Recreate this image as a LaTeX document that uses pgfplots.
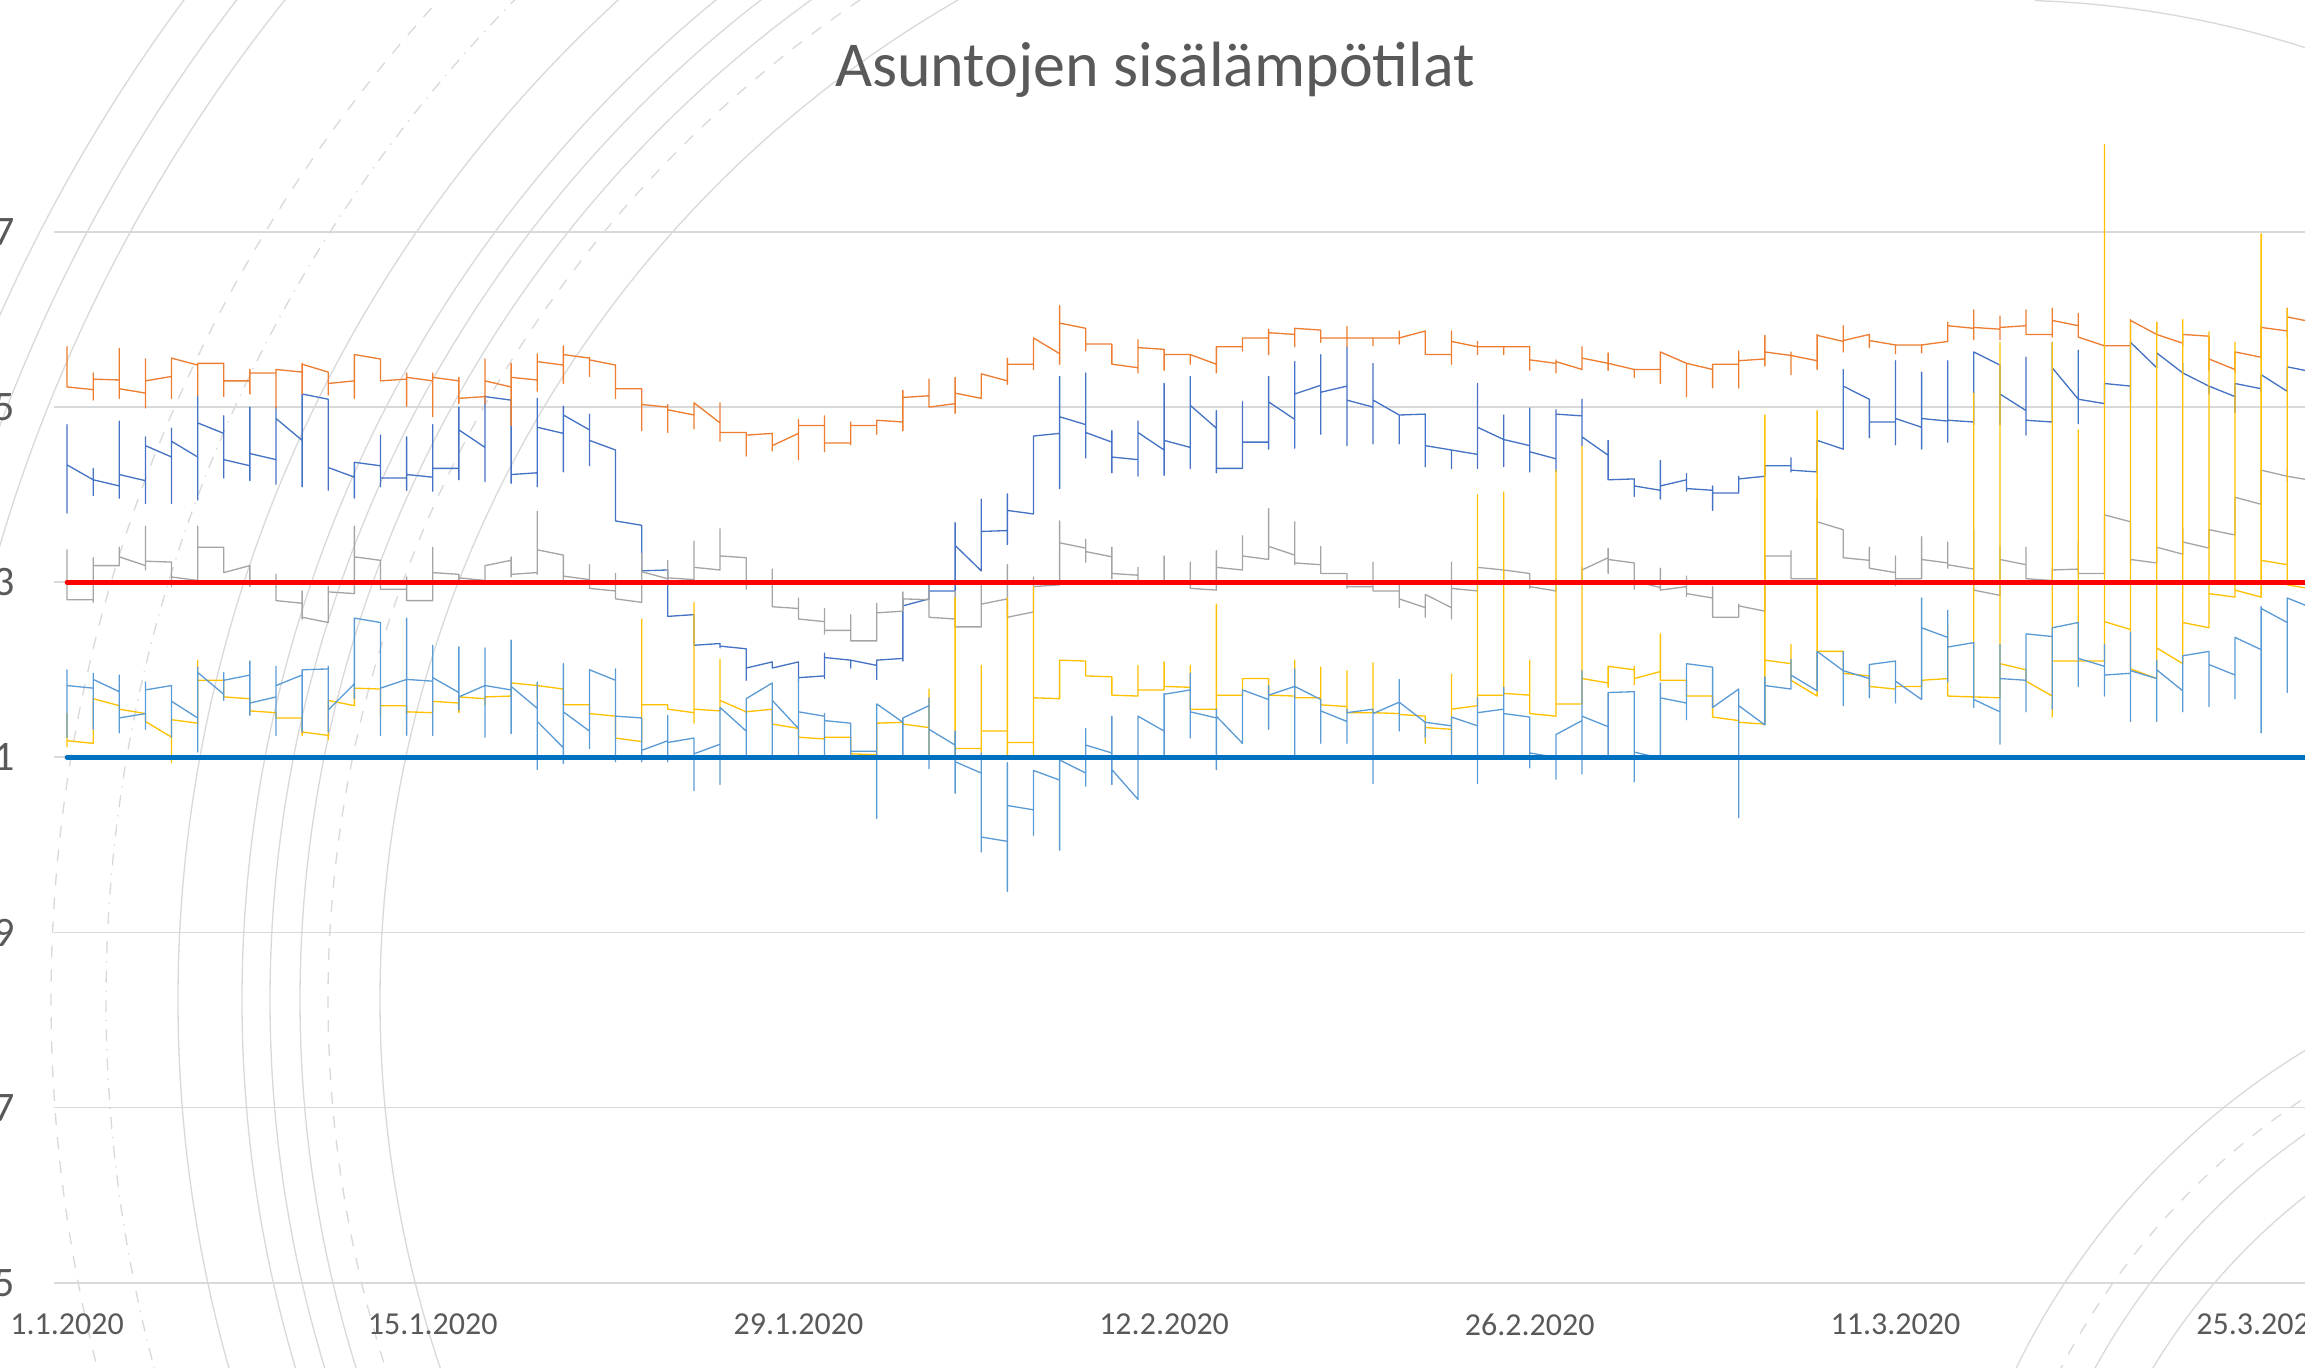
\documentclass[border=0pt]{standalone}
\usepackage{pgfplots}
\pgfplotsset{compat=1.18}
\usepackage{fontspec}
\setmainfont{Carlito}
\definecolor{gridgray}{HTML}{D9D9D9}
\definecolor{txtgray}{HTML}{595959}
\definecolor{sdblue}{HTML}{4472C4}
\definecolor{sorange}{HTML}{ED7D31}
\definecolor{sgray}{HTML}{A5A5A5}
\definecolor{syellow}{HTML}{FFC000}
\definecolor{slblue}{HTML}{5B9BD5}
\definecolor{sred}{HTML}{FF0000}
\definecolor{sblue}{HTML}{0070C0}
\begin{document}
\begin{tikzpicture}[x=0.25pt,y=0.25pt]
\useasboundingbox (0,0) rectangle (2305,1368);
\clip (0,0) rectangle (2305,1368);
\begin{scope}[draw=gridgray, line width=0.33pt]
\foreach \r in {1154,1234,1264,1292,1356,1600,1638,1680} {\draw (1534,368) ++(100:\r) arc[start angle=100, end angle=200, radius=\r];}
\draw[dashed] (1534,368) ++(100:1206) arc[start angle=100, end angle=200, radius=1206];
\draw[dashed] (1534,368) ++(100:1483) arc[start angle=100, end angle=200, radius=1483];
\draw[dash dot] (1534,368) ++(100:1428) arc[start angle=100, end angle=200, radius=1428];
\foreach \r in {640,690,760} {\draw (2700,-332) ++(95:\r) arc[start angle=95, end angle=185, radius=\r];}
\draw[dashed] (2700,-332) ++(95:720) arc[start angle=95, end angle=185, radius=720];
\draw (2000,368) ++(40:1000) arc[start angle=40, end angle=88, radius=1000];
\end{scope}
\node[anchor=base, font=\fontsize{16}{19}\selectfont, text=txtgray, inner sep=0pt] at (1155,1281) {Asuntojen sisälämpötilat};
\begin{axis}[
  at={(13.5pt,21.33pt)}, anchor=south west,
  scale only axis, width=562.75pt, height=284.55pt,
  xmin=0.5, xmax=86.68, ymin=15, ymax=28,
  axis x line*=bottom, axis y line*=left,
  x axis line style={draw=gridgray, line width=0.42pt},
  y axis line style={draw=none},
  ytick={15,17,19,21,23,25,27},
  ytick style={draw=none},
  ymajorgrids=true,
  grid style={draw=gridgray, line width=0.42pt},
  xtick={1,15,29,43,57,71,85},
  xticklabels={1.1.2020,15.1.2020,29.1.2020,12.2.2020,26.2.2020,11.3.2020,25.3.2020},
  xtick style={draw=none},
  extra x ticks={0.5,14.5,28.5,42.5,56.5,70.5,84.5},
  extra x tick labels={},
  extra x tick style={grid=none, tick align=outside, major tick length=3.6pt, tick style={draw=gridgray, line width=0.42pt}},
  /pgf/number format/assume math mode=true,
  xticklabel style={font=\fontsize{8}{9.6}\selectfont, text=txtgray, inner sep=0pt, anchor=north, yshift=-7.5pt},
  yticklabel style={font=\fontsize{10.5}{12.6}\selectfont, text=txtgray, inner sep=0pt, anchor=east, xshift=-9.5pt},
  clip=true,
  every axis plot/.append style={line width=0.33pt, line join=round},
]
\addplot[sdblue] coordinates {
(1,24.30)(1,24.80)(1,23.79)(1,24.34)
(2,24.17)(2,24.30)(2,23.99)(2,24.17)
(3,24.10)(3,24.84)(3,23.96)(3,24.23)
(4,24.16)(4,24.66)(4,23.90)(4,24.56)
(5,24.43)(5,24.76)(5,23.90)(5,24.61)
(6,24.43)(6,25.13)(6,23.94)(6,24.82)
(7,24.70)(7,24.90)(7,24.19)(7,24.40)
(8,24.33)(8,25.00)(8,24.16)(8,24.47)
(9,24.40)(9,25.00)(9,24.12)(9,24.87)
(10,24.62)(10,25.15)(10,24.09)(10,25.15)
(11,25.09)(11,25.09)(11,24.05)(11,24.31)
(12,24.20)(12,24.37)(12,23.96)(12,24.37)
(13,24.33)(13,24.68)(13,24.09)(13,24.19)
(14,24.19)(14,24.66)(14,24.05)(14,24.23)
(15,24.20)(15,24.80)(15,24.04)(15,24.30)
(16,24.30)(16,25.00)(16,24.17)(16,24.74)
(17,24.54)(17,25.13)(17,24.15)(17,25.12)
(18,25.08)(18,25.08)(18,24.13)(18,24.23)
(19,24.25)(19,25.10)(19,24.09)(19,24.77)
(20,24.70)(20,25.01)(20,24.26)(20,24.91)
(21,24.74)(21,24.92)(21,24.33)(21,24.62)
(22,24.51)(22,24.51)(22,23.70)(22,23.70)
(23,23.65)(23,23.65)(23,23.12)(23,23.13)
(24,23.14)(24,23.14)(24,22.61)(24,22.61)
(25,22.63)(25,22.63)(25,22.28)(25,22.28)
(26,22.30)(26,22.30)(26,22.25)(26,22.27)
(27,22.24)(27,22.24)(27,21.88)(27,22.02)
(28,22.09)(28,22.09)(28,22.02)(28,22.02)
(29,22.09)(29,22.09)(29,21.86)(29,21.91)
(30,21.93)(30,22.19)(30,21.90)(30,22.14)
(31,22.11)(31,22.11)(31,22.02)(31,22.11)
(32,22.05)(32,22.11)(32,21.89)(32,22.11)
(33,22.13)(33,22.80)(33,22.10)(33,22.73)
(34,22.81)(34,22.97)(34,22.81)(34,22.90)
(35,22.90)(35,23.68)(35,22.90)(35,23.42)
(36,23.13)(36,23.95)(36,23.13)(36,23.58)
(37,23.59)(37,24.01)(37,23.43)(37,23.82)
(38,23.78)(38,24.67)(38,23.78)(38,24.67)
(39,24.70)(39,25.35)(39,24.07)(39,24.89)
(40,24.80)(40,25.39)(40,24.42)(40,24.71)
(41,24.60)(41,24.73)(41,24.25)(41,24.43)
(42,24.40)(42,24.84)(42,24.21)(42,24.71)
(43,24.51)(43,25.27)(43,24.22)(43,24.62)
(44,24.54)(44,25.35)(44,24.30)(44,25.02)
(45,24.76)(45,24.96)(45,24.25)(45,24.30)
(46,24.30)(46,25.06)(46,24.30)(46,24.60)
(47,24.60)(47,25.35)(47,24.52)(47,25.06)
(48,24.86)(48,25.52)(48,24.53)(48,25.15)
(49,25.25)(49,25.60)(49,24.69)(49,25.17)
(50,25.24)(50,25.69)(50,24.56)(50,25.08)
(51,25.00)(51,25.50)(51,24.58)(51,25.08)
(52,24.91)(52,24.91)(52,24.58)(52,24.91)
(53,24.92)(53,24.92)(53,24.32)(53,24.56)
(54,24.51)(54,24.51)(54,24.30)(54,24.51)
(55,24.46)(55,25.27)(55,24.30)(55,24.77)
(56,24.63)(56,24.91)(56,24.32)(56,24.63)
(57,24.56)(57,24.99)(57,24.26)(57,24.49)
(58,24.41)(58,24.97)(58,24.26)(58,24.92)
(59,24.90)(59,25.09)(59,24.56)(59,24.66)
(60,24.45)(60,24.62)(60,24.17)(60,24.17)
(61,24.18)(61,24.18)(61,23.98)(61,24.10)
(62,24.05)(62,24.39)(62,23.95)(62,24.10)
(63,24.17)(63,24.24)(63,24.04)(63,24.07)
(64,24.05)(64,24.10)(64,23.82)(64,24.02)
(65,24.02)(65,24.21)(65,24.02)(65,24.18)
(66,24.21)(66,24.33)(66,24.21)(66,24.33)
(67,24.33)(67,24.42)(67,24.26)(67,24.28)
(68,24.26)(68,24.62)(68,24.26)(68,24.62)
(69,24.52)(69,25.43)(69,24.52)(69,25.24)
(70,25.09)(70,25.09)(70,24.65)(70,24.83)
(71,24.83)(71,25.53)(71,24.57)(71,24.87)
(72,24.77)(72,25.40)(72,24.52)(72,24.87)
(73,24.84)(73,25.53)(73,24.60)(73,24.85)
(74,24.83)(74,25.63)(74,24.80)(74,25.63)
(75,25.48)(75,25.48)(75,24.80)(75,25.15)
(76,24.96)(76,25.57)(76,24.68)(76,24.85)
(77,24.83)(77,25.74)(77,24.83)(77,25.45)
(78,25.09)(78,25.65)(78,24.81)(78,25.09)
(79,25.04)(79,25.27)(79,25.04)(79,25.27)
(80,25.24)(80,25.74)(80,25.06)(80,25.74)
(81,25.45)(81,25.62)(81,25.45)(81,25.62)
(82,25.39)(82,25.50)(82,25.39)(82,25.39)
(83,25.24)(83,25.24)(83,25.15)(83,25.24)
(84,25.12)(84,25.27)(84,24.94)(84,25.27)
(85,25.21)(85,25.37)(85,25.17)(85,25.37)
(86,25.18)(86,25.46)(86,25.18)(86,25.46)
(87,25.40)
};
\addplot[sorange] coordinates {
(1,25.45)(1,25.69)(1,25.23)(1,25.23)
(2,25.20)(2,25.39)(2,25.08)(2,25.32)
(3,25.31)(3,25.67)(3,25.10)(3,25.21)
(4,25.16)(4,25.55)(4,24.99)(4,25.30)
(5,25.35)(5,25.56)(5,25.10)(5,25.56)
(6,25.48)(6,25.50)(6,25.13)(6,25.50)
(7,25.50)(7,25.50)(7,25.12)(7,25.30)
(8,25.30)(8,25.43)(8,25.15)(8,25.39)
(9,25.39)(9,25.43)(9,24.99)(9,25.43)
(10,25.40)(10,25.50)(10,25.15)(10,25.49)
(11,25.40)(11,25.40)(11,25.14)(11,25.27)
(12,25.30)(12,25.60)(12,25.10)(12,25.60)
(13,25.55)(13,25.55)(13,25.30)(13,25.30)
(14,25.32)(14,25.39)(14,25.01)(14,25.34)
(15,25.30)(15,25.39)(15,24.89)(15,25.34)
(16,25.30)(16,25.34)(16,25.04)(16,25.10)
(17,25.12)(17,25.55)(17,25.04)(17,25.30)
(18,25.23)(18,25.50)(18,24.79)(18,25.34)
(19,25.31)(19,25.61)(19,25.18)(19,25.52)
(20,25.48)(20,25.70)(20,25.27)(20,25.60)
(21,25.56)(21,25.57)(21,25.35)(21,25.54)
(22,25.48)(22,25.48)(22,25.10)(22,25.21)
(23,25.21)(23,25.21)(23,24.73)(23,25.03)
(24,25.00)(24,25.03)(24,24.71)(24,24.97)
(25,24.91)(25,25.05)(25,24.75)(25,25.05)
(26,24.82)(26,25.05)(26,24.61)(26,24.71)
(27,24.71)(27,24.71)(27,24.44)(27,24.68)
(28,24.70)(28,24.70)(28,24.50)(28,24.56)
(29,24.70)(29,24.86)(29,24.40)(29,24.79)
(30,24.79)(30,24.90)(30,24.49)(30,24.59)
(31,24.59)(31,24.83)(31,24.57)(31,24.79)
(32,24.79)(32,24.85)(32,24.69)(32,24.85)
(33,24.83)(33,25.19)(33,24.73)(33,25.11)
(34,25.13)(34,25.32)(34,25.00)(34,25.00)
(35,25.04)(35,25.34)(35,24.93)(35,25.16)
(36,25.10)(36,25.38)(36,25.10)(36,25.38)
(37,25.30)(37,25.56)(37,25.26)(37,25.49)
(38,25.49)(38,25.79)(38,25.43)(38,25.79)
(39,25.61)(39,26.16)(39,25.49)(39,25.96)
(40,25.90)(40,25.90)(40,25.64)(40,25.72)
(41,25.72)(41,25.72)(41,25.49)(41,25.49)
(42,25.45)(42,25.77)(42,25.39)(42,25.68)
(43,25.66)(43,25.66)(43,25.42)(43,25.60)
(44,25.60)(44,25.60)(44,25.49)(44,25.60)
(45,25.49)(45,25.69)(45,25.39)(45,25.69)
(46,25.69)(46,25.79)(46,25.64)(46,25.79)
(47,25.79)(47,25.89)(47,25.60)(47,25.85)
(48,25.83)(48,25.90)(48,25.69)(48,25.90)
(49,25.88)(49,25.88)(49,25.74)(49,25.79)
(50,25.79)(50,25.92)(50,25.69)(50,25.79)
(51,25.79)(51,25.79)(51,25.70)(51,25.79)
(52,25.79)(52,25.87)(52,25.72)(52,25.79)
(53,25.87)(53,25.87)(53,25.60)(53,25.60)
(54,25.60)(54,25.87)(54,25.49)(54,25.75)
(55,25.69)(55,25.75)(55,25.60)(55,25.69)
(56,25.69)(56,25.69)(56,25.60)(56,25.69)
(57,25.69)(57,25.69)(57,25.42)(57,25.54)
(58,25.50)(58,25.54)(58,25.39)(58,25.52)
(59,25.43)(59,25.69)(59,25.43)(59,25.56)
(60,25.50)(60,25.62)(60,25.42)(60,25.50)
(61,25.43)(61,25.43)(61,25.34)(61,25.43)
(62,25.43)(62,25.63)(62,25.27)(62,25.63)
(63,25.50)(63,25.50)(63,25.12)(63,25.50)
(64,25.43)(64,25.49)(64,25.22)(64,25.49)
(65,25.49)(65,25.64)(65,25.22)(65,25.53)
(66,25.55)(66,25.82)(66,25.47)(66,25.63)
(67,25.59)(67,25.63)(67,25.37)(67,25.59)
(68,25.53)(68,25.83)(68,25.43)(68,25.82)
(69,25.75)(69,25.93)(69,25.63)(69,25.76)
(70,25.83)(70,25.83)(70,25.68)(70,25.76)
(71,25.71)(71,25.71)(71,25.61)(71,25.71)
(72,25.71)(72,25.71)(72,25.62)(72,25.71)
(73,25.75)(73,25.97)(73,25.75)(73,25.93)
(74,25.90)(74,26.11)(74,25.77)(74,25.91)
(75,25.89)(75,26.04)(75,25.77)(75,25.91)
(76,25.93)(76,26.11)(76,25.83)(76,25.83)
(77,25.83)(77,26.13)(77,25.80)(77,25.99)
(78,25.93)(78,26.07)(78,25.80)(78,25.80)
(79,25.70)(79,25.72)(79,25.68)(79,25.70)
(80,25.70)(80,26.00)(80,25.70)(80,25.99)
(81,25.83)(81,25.97)(81,25.83)(81,25.83)
(82,25.73)(82,25.83)(82,25.70)(82,25.83)
(83,25.81)(83,25.81)(83,25.42)(83,25.55)
(84,25.43)(84,25.63)(84,25.40)(84,25.63)
(85,25.57)(85,25.93)(85,25.57)(85,25.91)
(86,25.87)(86,26.13)(86,25.80)(86,26.03)
(87,25.97)
};
\addplot[sgray] coordinates {
(1,23.00)(1,23.37)(1,22.80)(1,22.80)
(2,22.80)(2,23.28)(2,22.77)(2,23.19)
(3,23.19)(3,23.40)(3,23.19)(3,23.29)
(4,23.19)(4,23.64)(4,23.14)(4,23.24)
(5,23.23)(5,23.23)(5,22.95)(5,23.06)
(6,23.02)(6,23.64)(6,23.02)(6,23.40)
(7,23.40)(7,23.40)(7,23.11)(7,23.11)
(8,23.19)(8,23.19)(8,22.95)(8,23.00)
(9,22.98)(9,23.09)(9,22.79)(9,22.79)
(10,22.76)(10,22.90)(10,22.58)(10,22.60)
(11,22.54)(11,22.95)(11,22.54)(11,22.89)
(12,22.87)(12,23.64)(12,22.87)(12,23.29)
(13,23.25)(13,23.25)(13,22.92)(13,22.92)
(14,22.92)(14,23.06)(14,22.79)(14,22.79)
(15,22.79)(15,23.40)(15,22.79)(15,23.11)
(16,23.09)(16,23.09)(16,23.01)(16,23.05)
(17,23.02)(17,23.19)(17,23.02)(17,23.19)
(18,23.25)(18,23.29)(18,23.06)(18,23.09)
(19,23.11)(19,23.81)(19,23.09)(19,23.37)
(20,23.31)(20,23.31)(20,23.03)(20,23.07)
(21,23.03)(21,23.20)(21,22.93)(21,22.93)
(22,22.90)(22,23.10)(22,22.81)(22,22.81)
(23,22.77)(23,23.33)(23,22.77)(23,23.12)
(24,23.04)(24,23.25)(24,23.03)(24,23.05)
(25,23.03)(25,23.47)(25,23.03)(25,23.17)
(26,23.14)(26,23.61)(26,23.14)(26,23.30)
(27,23.28)(27,23.28)(27,22.92)(27,23.00)
(28,23.00)(28,23.15)(28,22.72)(28,22.72)
(29,22.70)(29,22.82)(29,22.58)(29,22.58)
(30,22.55)(30,22.70)(30,22.41)(30,22.45)
(31,22.45)(31,22.63)(31,22.33)(31,22.33)
(32,22.33)(32,22.76)(32,22.33)(32,22.65)
(33,22.67)(33,22.89)(33,22.67)(33,22.81)
(34,22.80)(34,22.97)(34,22.60)(34,22.60)
(35,22.58)(35,22.90)(35,22.49)(35,22.49)
(36,22.49)(36,22.99)(36,22.49)(36,22.75)
(37,22.81)(37,23.20)(37,22.60)(37,22.60)
(38,22.66)(38,23.06)(38,22.66)(38,22.95)
(39,22.97)(39,23.70)(39,22.97)(39,23.45)
(40,23.39)(40,23.49)(40,23.23)(40,23.35)
(41,23.29)(41,23.40)(41,23.04)(41,23.10)
(42,23.08)(42,23.17)(42,23.00)(42,23.02)
(43,23.00)(43,23.30)(43,23.00)(43,23.00)
(44,23.00)(44,23.23)(44,22.93)(44,22.93)
(45,22.91)(45,23.36)(45,22.91)(45,23.17)
(46,23.14)(46,23.53)(46,23.14)(46,23.30)
(47,23.26)(47,23.84)(47,23.26)(47,23.41)
(48,23.31)(48,23.69)(48,23.20)(48,23.22)
(49,23.20)(49,23.41)(49,23.10)(49,23.10)
(50,23.10)(50,23.10)(50,22.93)(50,22.95)
(51,22.95)(51,23.23)(51,22.90)(51,22.90)
(52,22.90)(52,22.97)(52,22.71)(52,22.81)
(53,22.71)(53,22.86)(53,22.60)(53,22.86)
(54,22.71)(54,23.23)(54,22.58)(54,22.93)
(55,22.90)(55,23.17)(55,22.90)(55,23.17)
(56,23.14)(56,23.14)(56,23.03)(56,23.14)
(57,23.10)(57,23.10)(57,22.93)(57,22.95)
(58,22.90)(58,23.03)(58,22.90)(58,23.00)
(59,23.00)(59,23.17)(59,23.00)(59,23.14)
(60,23.28)(60,23.39)(60,23.10)(60,23.26)
(61,23.22)(61,23.22)(61,22.92)(61,23.01)
(62,22.94)(62,23.16)(62,22.92)(62,22.91)
(63,22.95)(63,23.07)(63,22.84)(63,22.87)
(64,22.82)(64,22.95)(64,22.60)(64,22.60)
(65,22.60)(65,22.75)(65,22.60)(65,22.73)
(66,22.67)(66,23.30)(66,22.67)(66,23.30)
(67,23.30)(67,23.36)(67,23.04)(67,23.04)
(68,23.04)(68,23.95)(68,23.04)(68,23.69)
(69,23.60)(69,23.60)(69,23.28)(69,23.28)
(70,23.25)(70,23.40)(70,23.16)(70,23.16)
(71,23.11)(71,23.30)(71,22.96)(71,23.04)
(72,23.04)(72,23.52)(72,23.04)(72,23.26)
(73,23.22)(73,23.46)(73,23.16)(73,23.20)
(74,23.15)(74,23.60)(74,22.91)(74,22.91)
(75,22.85)(75,23.40)(75,22.85)(75,23.26)
(76,23.20)(76,23.40)(76,23.04)(76,23.04)
(77,23.02)(77,23.16)(77,23.01)(77,23.14)
(78,23.15)(78,23.45)(78,23.10)(78,23.10)
(79,23.10)(79,23.77)(79,23.10)(79,23.77)
(80,23.69)(80,23.69)(80,23.22)(80,23.26)
(81,23.22)(81,23.40)(81,23.22)(81,23.40)
(82,23.32)(82,23.62)(82,23.32)(82,23.46)
(83,23.39)(83,23.60)(83,23.39)(83,23.60)
(84,23.54)(84,23.97)(84,23.54)(84,23.97)
(85,23.89)(85,24.28)(85,23.89)(85,24.28)
(86,24.21)(86,24.30)(86,24.15)(86,24.21)
(87,24.16)
};
\addplot[syellow] coordinates {
(1,21.20)(1,21.50)(1,21.12)(1,21.19)
(2,21.16)(2,21.67)(2,21.16)(2,21.67)
(3,21.59)(3,21.59)(3,21.55)(3,21.55)
(4,21.50)(4,21.50)(4,21.41)(4,21.41)
(5,21.23)(5,21.43)(5,20.94)(5,21.43)
(6,21.39)(6,22.11)(6,21.39)(6,21.88)
(7,21.88)(7,21.88)(7,21.69)(7,21.69)
(8,21.67)(8,21.67)(8,21.53)(8,21.53)
(9,21.51)(9,21.51)(9,21.45)(9,21.45)
(10,21.45)(10,21.45)(10,21.25)(10,21.29)
(11,21.25)(11,21.65)(11,21.20)(11,21.65)
(12,21.59)(12,21.79)(12,21.59)(12,21.79)
(13,21.78)(13,21.78)(13,21.46)(13,21.59)
(14,21.59)(14,21.59)(14,21.50)(14,21.52)
(15,21.51)(15,21.64)(15,21.51)(15,21.64)
(16,21.62)(16,21.69)(16,21.51)(16,21.69)
(17,21.67)(17,21.69)(17,21.60)(17,21.69)
(18,21.70)(18,21.85)(18,21.70)(18,21.85)
(19,21.82)(19,21.85)(19,21.68)(19,21.82)
(20,21.78)(20,21.78)(20,21.60)(20,21.60)
(21,21.60)(21,21.60)(21,21.50)(21,21.50)
(22,21.47)(22,21.47)(22,21.22)(22,21.22)
(23,21.18)(23,22.58)(23,21.18)(23,21.60)
(24,21.60)(24,21.60)(24,21.55)(24,21.55)
(25,21.51)(25,22.77)(25,21.39)(25,21.55)
(26,21.53)(26,22.12)(26,21.53)(26,21.65)
(27,21.52)(27,21.52)(27,21.50)(27,21.52)
(28,21.55)(28,21.55)(28,21.38)(28,21.38)
(29,21.33)(29,21.33)(29,21.23)(29,21.23)
(30,21.21)(30,21.24)(30,21.21)(30,21.23)
(31,21.23)(31,21.23)(31,21.04)(31,21.04)
(32,21.03)(32,21.39)(32,21.03)(32,21.39)
(33,21.40)(33,21.40)(33,21.38)(33,21.38)
(34,21.34)(34,21.78)(34,21.00)(34,21.00)
(35,21.00)(35,22.82)(35,21.00)(35,21.10)
(36,21.10)(36,22.05)(36,21.00)(36,21.30)
(37,21.30)(37,22.82)(37,21.00)(37,21.17)
(38,21.17)(38,22.95)(38,21.00)(38,21.68)
(39,21.67)(39,22.11)(39,21.67)(39,22.11)
(40,22.10)(40,22.10)(40,21.93)(40,21.93)
(41,21.92)(41,21.92)(41,21.71)(41,21.71)
(42,21.70)(42,22.05)(42,21.70)(42,21.77)
(43,21.77)(43,22.09)(43,21.77)(43,21.81)
(44,21.80)(44,22.05)(44,21.55)(44,21.55)
(45,21.55)(45,22.75)(45,21.55)(45,21.71)
(46,21.71)(46,21.90)(46,21.71)(46,21.90)
(47,21.90)(47,21.90)(47,21.71)(47,21.71)
(48,21.70)(48,22.11)(48,21.68)(48,21.68)
(49,21.68)(49,22.03)(49,21.60)(49,21.60)
(50,21.58)(50,21.99)(50,21.51)(50,21.51)
(51,21.51)(51,22.08)(51,21.51)(51,21.51)
(52,21.50)(52,21.51)(52,21.49)(52,21.49)
(53,21.47)(53,21.47)(53,21.16)(53,21.34)
(54,21.32)(54,21.95)(54,21.07)(54,21.55)
(55,21.59)(55,24.00)(55,21.59)(55,21.71)
(56,21.71)(56,24.03)(56,21.71)(56,21.73)
(57,21.71)(57,22.11)(57,21.50)(57,21.50)
(58,21.47)(58,24.28)(58,21.47)(58,21.61)
(59,21.61)(59,24.55)(59,21.61)(59,21.90)
(60,21.85)(60,22.04)(60,21.80)(60,22.04)
(61,22.00)(61,22.04)(61,21.83)(61,21.90)
(62,21.98)(62,22.41)(62,21.88)(62,21.88)
(63,21.88)(63,21.88)(63,21.70)(63,21.70)
(64,21.70)(64,21.70)(64,21.46)(64,21.46)
(65,21.42)(65,21.43)(65,21.40)(65,21.40)
(66,21.38)(66,24.91)(66,21.38)(66,22.11)
(67,22.07)(67,22.29)(67,21.88)(67,21.88)
(68,21.70)(68,24.96)(68,21.70)(68,22.21)
(69,22.21)(69,22.21)(69,21.96)(69,21.96)
(70,21.93)(70,21.93)(70,21.81)(70,21.81)
(71,21.78)(71,21.81)(71,21.78)(71,21.81)
(72,21.81)(72,21.88)(72,21.81)(72,21.88)
(73,21.90)(73,22.51)(73,21.70)(73,21.70)
(74,21.69)(74,25.16)(74,21.69)(74,21.69)
(75,21.68)(75,25.74)(75,21.68)(75,22.07)
(76,22.00)(76,22.00)(76,21.87)(76,21.87)
(77,21.70)(77,25.74)(77,21.46)(77,22.10)
(78,22.10)(78,24.74)(78,22.10)(78,22.10)
(79,22.10)(79,28.00)(79,22.10)(79,22.55)
(80,22.46)(80,25.97)(80,22.01)(80,22.01)
(81,21.90)(81,25.97)(81,21.90)(81,22.25)
(82,22.07)(82,26.00)(82,22.07)(82,22.54)
(83,22.48)(83,25.86)(83,22.48)(83,22.87)
(84,22.83)(84,25.74)(84,22.83)(84,22.91)
(85,22.83)(85,26.98)(85,22.83)(85,23.25)
(86,23.20)(86,26.12)(86,22.97)(86,22.97)
(87,22.92)
};
\addplot[slblue] coordinates {
(1,21.60)(1,22.00)(1,21.23)(1,21.82)
(2,21.79)(2,21.96)(2,21.32)(2,21.89)
(3,21.75)(3,21.94)(3,21.28)(3,21.45)
(4,21.50)(4,21.86)(4,21.32)(4,21.77)
(5,21.82)(5,21.82)(5,21.23)(5,21.64)
(6,21.45)(6,22.03)(6,21.06)(6,21.97)
(7,21.72)(7,21.97)(7,21.65)(7,21.88)
(8,21.94)(8,22.10)(8,21.48)(8,21.62)
(9,21.69)(9,22.04)(9,21.25)(9,21.82)
(10,21.94)(10,22.00)(10,21.29)(10,22.00)
(11,22.01)(11,22.04)(11,21.29)(11,21.54)
(12,21.84)(12,22.59)(12,21.67)(12,22.59)
(13,22.54)(13,22.54)(13,21.25)(13,21.79)
(14,21.89)(14,22.59)(14,21.25)(14,21.89)
(15,21.87)(15,22.28)(15,21.25)(15,21.91)
(16,21.74)(16,22.26)(16,21.54)(16,21.69)
(17,21.82)(17,22.25)(17,21.23)(17,21.82)
(18,21.77)(18,22.34)(18,21.27)(18,21.81)
(19,21.56)(19,21.86)(19,20.86)(19,21.41)
(20,21.11)(20,22.07)(20,20.93)(20,21.52)
(21,21.30)(21,22.00)(21,21.10)(21,22.00)
(22,21.88)(22,22.01)(22,20.95)(22,21.47)
(23,21.45)(23,21.45)(23,20.95)(23,21.08)
(24,21.19)(24,21.48)(24,20.95)(24,21.17)
(25,21.22)(25,21.22)(25,20.62)(25,21.04)
(26,21.15)(26,21.57)(26,20.69)(26,21.57)
(27,21.30)(27,21.67)(27,21.00)(27,21.67)
(28,21.85)(28,21.85)(28,21.00)(28,21.65)
(29,21.33)(29,21.91)(29,21.00)(29,21.52)
(30,21.47)(30,21.50)(30,21.00)(30,21.42)
(31,21.39)(31,21.39)(31,21.00)(31,21.07)
(32,21.07)(32,21.60)(32,20.30)(32,21.61)
(33,21.40)(33,21.45)(33,21.02)(33,21.45)
(34,21.59)(34,21.68)(34,20.87)(34,21.32)
(35,21.14)(35,21.30)(35,20.59)(35,20.95)
(36,20.82)(36,21.05)(36,19.92)(36,20.09)
(37,20.04)(37,20.94)(37,19.47)(37,20.45)
(38,20.40)(38,20.85)(38,20.11)(38,20.85)
(39,20.74)(39,20.97)(39,19.94)(39,20.97)
(40,20.82)(40,21.33)(40,20.67)(40,21.14)
(41,21.05)(41,21.47)(41,20.69)(41,20.86)
(42,20.52)(42,21.47)(42,20.52)(42,21.47)
(43,21.30)(43,21.73)(43,21.03)(43,21.72)
(44,21.77)(44,21.96)(44,21.22)(44,21.52)
(45,21.45)(45,21.55)(45,20.86)(45,21.47)
(46,21.16)(46,21.77)(46,21.16)(46,21.77)
(47,21.66)(47,21.82)(47,21.32)(47,21.71)
(48,21.81)(48,22.01)(48,21.00)(48,21.81)
(49,21.66)(49,21.66)(49,21.16)(49,21.53)
(50,21.41)(50,21.55)(50,21.16)(50,21.51)
(51,21.55)(51,21.55)(51,20.70)(51,21.50)
(52,21.63)(52,21.89)(52,21.30)(52,21.63)
(53,21.40)(53,21.40)(53,21.23)(53,21.40)
(54,21.36)(54,21.42)(54,21.03)(54,21.46)
(55,21.36)(55,21.68)(55,20.70)(55,21.51)
(56,21.55)(56,21.80)(56,20.99)(56,21.50)
(57,21.46)(57,21.46)(57,20.88)(57,21.05)
(58,21.00)(58,21.26)(58,20.75)(58,21.26)
(59,21.42)(59,21.99)(59,20.81)(59,21.47)
(60,21.35)(60,21.74)(60,20.98)(60,21.74)
(61,21.75)(61,21.75)(61,20.72)(61,21.06)
(62,20.99)(62,21.85)(62,20.99)(62,21.68)
(63,21.62)(63,22.07)(63,21.43)(63,22.07)
(64,22.03)(64,22.03)(64,21.57)(64,21.57)
(65,21.78)(65,21.78)(65,20.31)(65,21.59)
(66,21.37)(66,21.92)(66,21.37)(66,21.82)
(67,21.78)(67,22.12)(67,21.78)(67,21.94)
(68,21.76)(68,22.21)(68,21.76)(68,22.21)
(69,21.99)(69,22.21)(69,21.59)(69,21.99)
(70,21.90)(70,22.06)(70,21.68)(70,22.06)
(71,22.10)(71,22.10)(71,21.62)(71,21.87)
(72,21.66)(72,22.82)(72,21.66)(72,22.48)
(73,22.37)(73,22.68)(73,21.86)(73,22.26)
(74,22.31)(74,22.31)(74,21.57)(74,21.66)
(75,21.52)(75,22.29)(75,21.15)(75,21.90)
(76,21.88)(76,22.41)(76,21.52)(76,22.41)
(77,22.38)(77,22.48)(77,21.55)(77,22.48)
(78,22.54)(78,22.54)(78,21.81)(78,22.13)
(79,22.04)(79,22.29)(79,21.70)(79,21.94)
(80,21.96)(80,22.43)(80,21.41)(80,21.99)
(81,21.90)(81,22.11)(81,21.41)(81,22.00)
(82,21.76)(82,22.16)(82,21.52)(82,22.16)
(83,22.21)(83,22.21)(83,21.58)(83,22.06)
(84,21.94)(84,22.37)(84,21.67)(84,22.37)
(85,22.23)(85,22.72)(85,21.28)(85,22.70)
(86,22.54)(86,22.82)(86,21.74)(86,22.82)
(87,22.70)
};
\addplot[sred, line width=1.2pt, line cap=round] coordinates {(1,23) (88,23)};
\addplot[sblue, line width=1.2pt, line cap=round] coordinates {(1,21) (88,21)};
\end{axis}
\end{tikzpicture}
\end{document}
